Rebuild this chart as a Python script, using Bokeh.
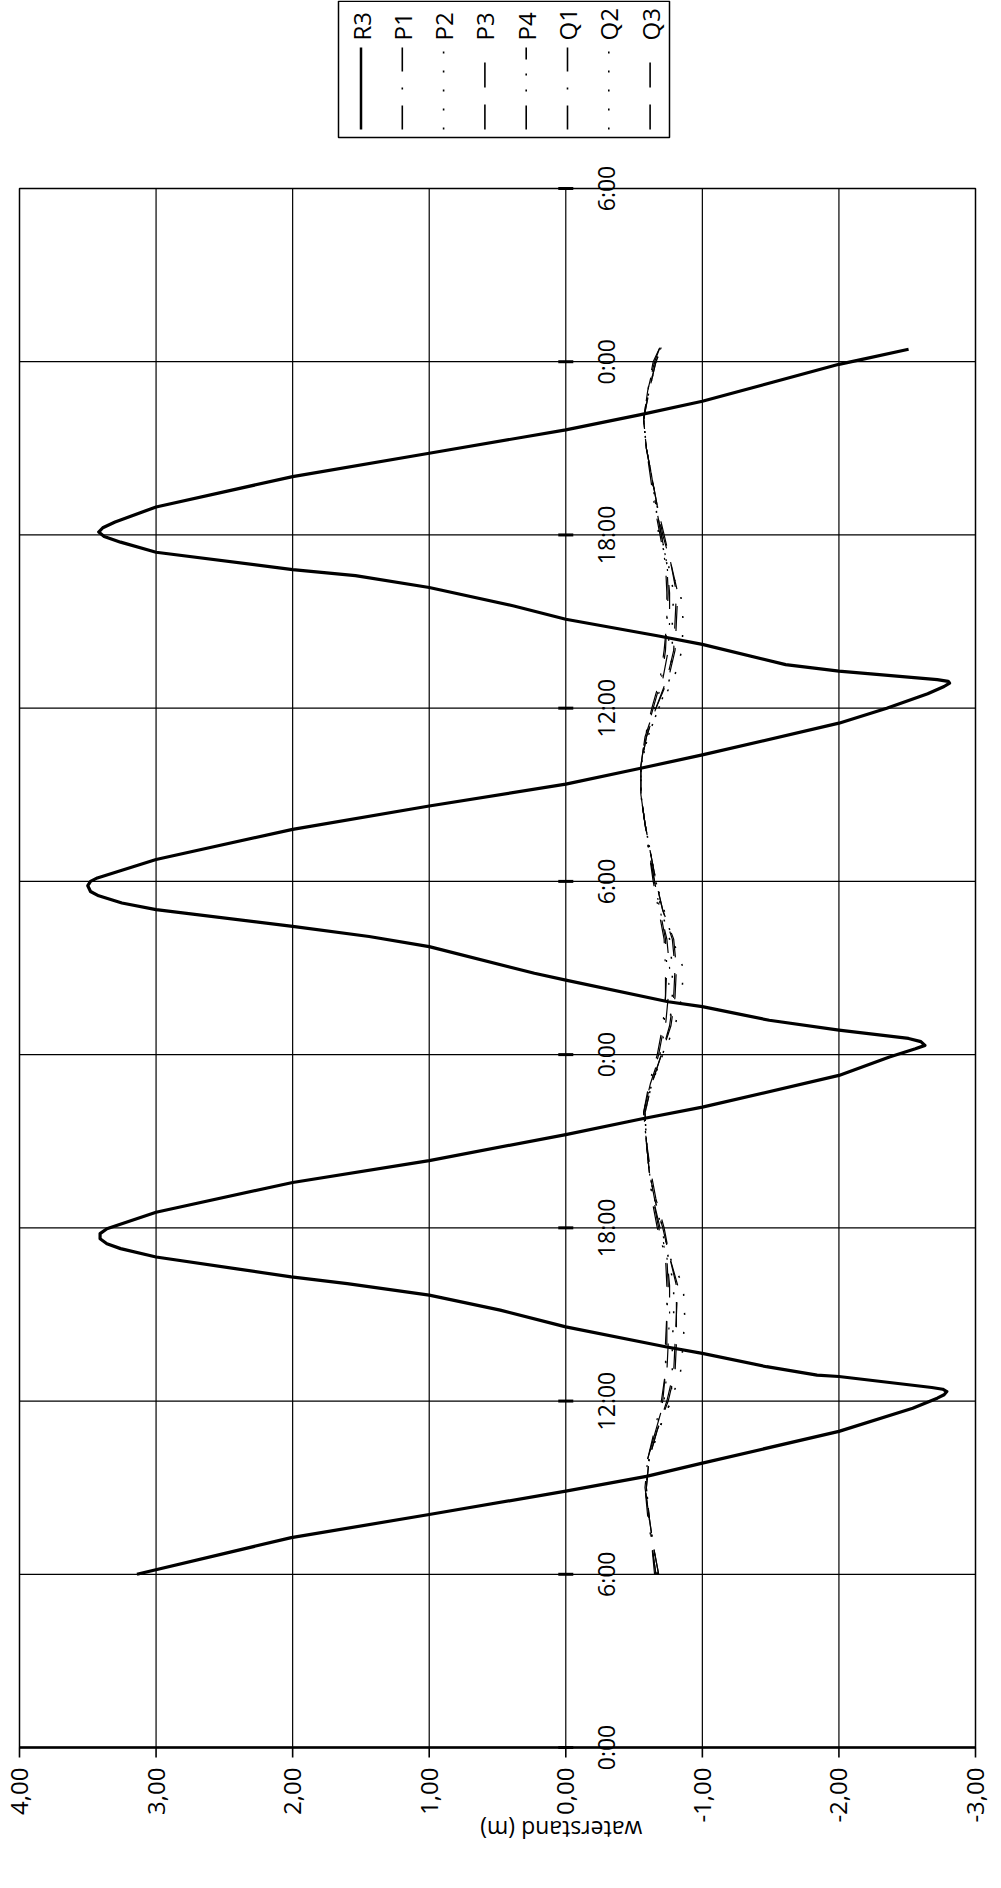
import math
from bokeh.plotting import figure
from bokeh.models import Range1d, ColumnDataSource
from bokeh.layouts import column
from bokeh.embed import file_html
from bokeh.resources import INLINE
from bokeh.core.properties import value

# ---------------- data ----------------
series_names = ["R3", "P1", "P2", "P3", "P4", "Q1", "Q2", "Q3"]

r3_hours = [6.0, 7.27, 8.07, 8.88, 9.39, 9.85, 10.95, 11.75, 12.1, 12.22, 12.33, 12.41, 12.47,
            12.85, 12.9, 13.19, 13.65, 13.88, 14.57, 15.15, 15.67, 16.07, 16.3, 16.99, 17.28,
            17.45, 17.62, 17.8, 17.97, 18.54, 19.57, 20.33, 21.23, 21.78, 22.18, 23.28, 23.92,
            24.2, 24.32, 24.45, 24.56, 24.85, 25.19, 25.66, 25.83, 26.58, 26.82, 27.74, 28.09,
            28.44, 29.02, 29.25, 29.5, 29.65, 29.85, 30.0, 30.12, 30.76, 31.8, 32.61, 33.37,
            33.91, 34.38, 35.48, 36.0, 36.5, 36.75, 36.87, 36.93, 36.99, 37.28, 37.51, 38.21,
            38.5, 39.08, 39.54, 40.18, 40.59, 40.8, 41.4, 41.75, 41.95, 42.1, 42.25, 42.45,
            42.97, 44.02, 44.83, 45.64, 46.16, 46.63, 47.91, 48.08, 48.43]
r3_level = [3.14, 2.01, 1.0, 0.0, -0.59, -1.0, -2.0, -2.54, -2.72, -2.77, -2.79, -2.76, -2.68,
            -2.0, -1.84, -1.47, -1.0, -0.73, 0.0, 0.48, 1.0, 1.6, 2.01, 3.0, 3.26,
            3.36, 3.41, 3.41, 3.36, 3.0, 2.0, 1.0, 0.0, -0.56, -1.0, -2.0, -2.37,
            -2.56, -2.63, -2.6, -2.51, -2.0, -1.49, -1.0, -0.75, 0.0, 0.23, 1.0, 1.44,
            2.0, 3.0, 3.25, 3.42, 3.48, 3.5, 3.48, 3.43, 3.0, 2.0, 1.0, 0.0,
            -0.54, -1.0, -2.0, -2.35, -2.65, -2.77, -2.81, -2.8, -2.72, -2.0, -1.61, -1.0,
            -0.68, 0.0, 0.38, 1.0, 1.54, 2.0, 3.0, 3.26, 3.38, 3.42, 3.39, 3.3,
            3.0, 2.0, 1.0, 0.0, -0.54, -1.0, -2.0, -2.17, -2.51]

thin_hours = [6, 7, 8, 9, 10, 11, 12, 13, 14, 15, 16, 17, 18, 19, 20, 21, 22, 23, 24, 25,
              26, 27, 28, 29, 30, 31, 32, 33, 34, 35, 36, 37, 38, 39, 40, 41, 42, 43, 44,
              45, 46, 47, 48, 48.5]
p1 = [-0.66, -0.63, -0.61, -0.58, -0.60, -0.66, -0.71, -0.73, -0.74, -0.74, -0.75, -0.74,
      -0.68, -0.64, -0.61, -0.59, -0.57, -0.62, -0.68, -0.72, -0.73, -0.74, -0.73, -0.69,
      -0.65, -0.61, -0.58, -0.55, -0.55, -0.58, -0.64, -0.70, -0.73, -0.74, -0.75, -0.74,
      -0.70, -0.66, -0.63, -0.59, -0.57, -0.60, -0.65, -0.69]
p2 = [-0.67, -0.64, -0.61, -0.59, -0.61, -0.68, -0.77, -0.84, -0.86, -0.87, -0.86, -0.76,
      -0.71, -0.65, -0.61, -0.59, -0.58, -0.63, -0.71, -0.80, -0.85, -0.86, -0.78, -0.72,
      -0.66, -0.62, -0.58, -0.55, -0.55, -0.60, -0.68, -0.79, -0.85, -0.86, -0.84, -0.74,
      -0.70, -0.67, -0.63, -0.59, -0.57, -0.61, -0.66, -0.70]
p3 = [-0.68, -0.64, -0.61, -0.59, -0.61, -0.67, -0.75, -0.80, -0.81, -0.81, -0.82, -0.76,
      -0.71, -0.65, -0.61, -0.59, -0.58, -0.63, -0.70, -0.77, -0.80, -0.81, -0.79, -0.71,
      -0.66, -0.62, -0.58, -0.55, -0.55, -0.59, -0.66, -0.75, -0.80, -0.81, -0.82, -0.77,
      -0.71, -0.67, -0.63, -0.59, -0.57, -0.61, -0.66, -0.71]
p4 = [-0.66, -0.63, -0.61, -0.58, -0.60, -0.66, -0.72, -0.74, -0.75, -0.76, -0.76, -0.74,
      -0.69, -0.64, -0.61, -0.59, -0.57, -0.62, -0.69, -0.73, -0.75, -0.76, -0.74, -0.69,
      -0.65, -0.61, -0.58, -0.55, -0.55, -0.58, -0.65, -0.71, -0.75, -0.76, -0.76, -0.74,
      -0.70, -0.66, -0.63, -0.59, -0.57, -0.60, -0.65, -0.70]
q1 = [-0.65, -0.63, -0.60, -0.58, -0.60, -0.65, -0.70, -0.73, -0.73, -0.74, -0.74, -0.73,
      -0.67, -0.63, -0.61, -0.59, -0.57, -0.61, -0.67, -0.71, -0.73, -0.73, -0.72, -0.68,
      -0.64, -0.61, -0.58, -0.55, -0.55, -0.58, -0.63, -0.69, -0.72, -0.74, -0.74, -0.73,
      -0.69, -0.65, -0.62, -0.59, -0.57, -0.60, -0.64, -0.69]
q2 = [-0.67, -0.64, -0.61, -0.59, -0.61, -0.68, -0.77, -0.78, -0.78, -0.79, -0.79, -0.75,
      -0.70, -0.65, -0.61, -0.59, -0.58, -0.63, -0.71, -0.76, -0.78, -0.78, -0.76, -0.70,
      -0.66, -0.62, -0.58, -0.55, -0.55, -0.60, -0.68, -0.76, -0.78, -0.78, -0.79, -0.75,
      -0.68, -0.66, -0.63, -0.59, -0.57, -0.61, -0.66, -0.70]
q3 = [-0.68, -0.64, -0.61, -0.59, -0.61, -0.67, -0.74, -0.79, -0.80, -0.81, -0.81, -0.76,
      -0.72, -0.66, -0.62, -0.59, -0.58, -0.63, -0.70, -0.76, -0.79, -0.80, -0.78, -0.71,
      -0.66, -0.62, -0.58, -0.55, -0.55, -0.59, -0.66, -0.74, -0.79, -0.80, -0.81, -0.77,
      -0.72, -0.67, -0.63, -0.59, -0.57, -0.61, -0.66, -0.70]

level_ticks = [4, 3, 2, 1, 0, -1, -2, -3]
level_tick_labels = ["4,00", "3,00", "2,00", "1,00", "0,00", "-1,00", "-2,00", "-3,00"]
time_ticks = [0, 6, 12, 18, 24, 30, 36, 42, 48, 54]
time_tick_labels = ["0:00", "6:00", "12:00", "18:00", "0:00", "6:00", "12:00", "18:00",
                    "0:00", "6:00"]
axis_title = "waterstand (m)"

# ---------------- styles / layout (page pixels) ----------------
FONT = "Open Sans"
dashes = {"R3": "solid", "P1": "24 16 2 16", "P2": "2 17", "P3": "25 17",
          "P4": "24 14 2 14 2 14", "Q1": "24 16 2 16", "Q2": "2 17", "Q3": "25 17"}
widths = {"R3": 3.2, "P1": 1.2, "P2": 1.5, "P3": 1.2, "P4": 1.2, "Q1": 1.2, "Q2": 1.5, "Q3": 1.2}
thin_series = {"P1": p1, "P2": p2, "P3": p3, "P4": p4, "Q1": q1, "Q2": q2, "Q3": q3}

W = 993
LEG_H = 145
FIG_L, FIG_T = 8, 8 + LEG_H
FIG_H = 1718
FR_L, FR_R, FR_T, FR_B = 27, 983, 196, 1755   # plot frame in page pixels


def bare(fig):
    fig.xgrid.visible = False
    fig.ygrid.visible = False
    fig.outline_line_color = None
    fig.background_fill_color = "white"
    return fig


# ---------------- legend figure ----------------
lg = bare(figure(width=W, height=LEG_H, x_range=Range1d(0, W), y_range=Range1d(0, LEG_H),
                 output_backend="svg", toolbar_location=None, title=None,
                 x_axis_location=None, y_axis_location=None, min_border=0))
lg.quad(left=[338], right=[669], bottom=[8], top=[144.3], fill_color=None,
        line_color="black", line_width=1.5)
leg_x = [360.5 + 41.3 * i for i in range(len(series_names))]
for xi, name in zip(leg_x, series_names):
    lg.segment(x0=[xi], y0=[16], x1=[xi], y1=[98], line_color="black",
               line_width=2.5 if name == "R3" else 1.6, line_dash=dashes[name])
lsrc = ColumnDataSource(dict(x=leg_x, y=[105] * len(series_names), t=series_names))
lg.text(x="x", y="y", text="t", source=lsrc, angle=math.pi / 2, text_align="left",
        text_baseline="middle", text_font=value(FONT), text_font_size="24px",
        text_color="black")

# ---------------- main figure (frame covers the whole canvas) ----------------
v_left, v_right = level_ticks[0], level_ticks[-1]
t_lo, t_hi = time_ticks[0], time_ticks[-1]
SX = (FR_R - FR_L) / (v_left - v_right)      # px per metre
SY = (FR_B - FR_T) / (t_hi - t_lo)           # px per hour
x_start = v_left + (FR_L - FIG_L) / SX
x_end = v_left - (FIG_L + W - FR_L) / SX
y_start = t_lo - (FIG_T + FIG_H - FR_B) / SY
y_end = t_lo + (FR_B - FIG_T) / SY

p = bare(figure(width=W, height=FIG_H, x_range=Range1d(x_start, x_end),
                y_range=Range1d(y_start, y_end), output_backend="svg",
                toolbar_location=None, title=None, x_axis_location=None,
                y_axis_location=None, min_border=0))

inner_levels = level_ticks[1:-1]
inner_times = time_ticks[1:-1]
# grid
p.segment(x0=inner_levels, y0=[t_lo] * len(inner_levels), x1=inner_levels,
          y1=[t_hi] * len(inner_levels), line_color="black", line_width=1.2)
p.segment(x0=[v_left] * len(inner_times), y0=inner_times, x1=[v_right] * len(inner_times),
          y1=inner_times, line_color="black", line_width=1.2)
# frame
p.quad(left=[v_left], right=[v_right], bottom=[t_lo], top=[t_hi], fill_color=None,
       line_color="black", line_width=1.5)
# value axis (bottom)
p.segment(x0=[v_left], y0=[t_lo], x1=[v_right], y1=[t_lo], line_color="black",
          line_width=2.6)
p.segment(x0=level_ticks, y0=[t_lo] * len(level_ticks), x1=level_ticks,
          y1=[t_lo - 10 / SY] * len(level_ticks), line_color="black", line_width=1.6)
p.text(x=level_ticks, y=[t_lo - 20 / SY] * len(level_ticks), text=level_tick_labels,
       angle=math.pi / 2, text_align="right", text_baseline="middle",
       text_font=value(FONT), text_font_size="24px", text_color="black")
# time axis along the 0,00 line
p.segment(x0=[7.5 / SX] * len(time_ticks), y0=time_ticks, x1=[-7.5 / SX] * len(time_ticks),
          y1=time_ticks, line_color="black", line_width=3)
p.text(x=[-40 / SX] * len(time_ticks), y=time_ticks, text=time_tick_labels,
       angle=math.pi / 2, text_align="center", text_baseline="middle",
       text_font=value(FONT), text_font_size="23px", text_color="black")
# axis title, upside down
p.text(x=[4.5 / SX], y=[t_lo - 82 / SY], text=[axis_title], angle=math.pi,
       text_align="center", text_baseline="middle", text_font=value(FONT),
       text_font_size="23px", text_color="black")

# thin series
for name, vals in thin_series.items():
    p.line(x=vals, y=thin_hours, line_color="black", line_width=widths[name],
           line_dash=dashes[name])

# R3
p.line(x=r3_level, y=r3_hours, line_color="black", line_width=widths["R3"],
       line_join="round")

layout = column(lg, p, spacing=0)
open("out.html", "w").write(file_html(layout, INLINE))
